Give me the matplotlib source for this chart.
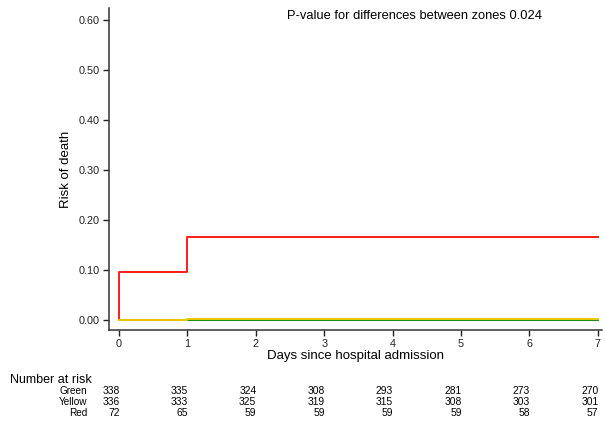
import matplotlib
matplotlib.use("Agg")
import matplotlib.pyplot as plt

plt.rcParams['font.family'] = ['Liberation Sans', 'DejaVu Sans']

# Cumulative risk of death by zone (step curves)
green_days = [0, 1, 7]
green_risk = [0.0, 0.0, 0.0]
yellow_days = [0, 1, 7]
yellow_risk = [0.0, 0.003, 0.003]
red_days = [0, 0, 1, 7]
red_risk = [0.0, 0.097, 0.167, 0.167]

# Number at risk table
risk_days = [0, 1, 2, 3, 4, 5, 6, 7]
at_risk_green = [338, 335, 324, 308, 293, 281, 273, 270]
at_risk_yellow = [336, 333, 325, 319, 315, 308, 303, 301]
at_risk_red = [72, 65, 59, 59, 59, 59, 58, 57]

yticks = [0.0, 0.1, 0.2, 0.3, 0.4, 0.5, 0.6]

fig = plt.figure(figsize=(6.05, 4.33), dpi=100)
ax = fig.add_axes([109 / 605, 103 / 433, 493 / 605, 322 / 433])

ax.plot(green_days, green_risk, drawstyle='steps-post', color='#1a8a1a', lw=1.4, zorder=3)
ax.plot(red_days, red_risk, drawstyle='steps-post', color='#ff1a1a', lw=1.4, zorder=2)
ax.plot(yellow_days, yellow_risk, drawstyle='steps-post', color='#f0c800', lw=1.4, zorder=4)

ax.set_xlim(-0.146, 7.06)
ax.set_ylim(-0.02, 0.624)
ax.set_xticks(risk_days)
ax.set_yticks(yticks)
ax.set_yticklabels([f"{v:.2f}" for v in yticks])
ax.tick_params(axis='both', direction='out', length=4.5, width=1, labelsize=7.8,
               colors='#222222', pad=2)
for side in ('top', 'right'):
    ax.spines[side].set_visible(False)
for side in ('left', 'bottom'):
    ax.spines[side].set_linewidth(1.1)
    ax.spines[side].set_color('#333333')

ax.set_ylabel("Risk of death", fontsize=9.5, labelpad=5)
ax.set_xlabel("Days since hospital admission", fontsize=9.5, labelpad=1)
ax.text(0.62, 0.975, "P-value for differences between zones 0.024", transform=ax.transAxes,
        fontsize=9.3, ha='center', va='center')

# Number-at-risk table below the axis
fig.text(10 / 605, 1 - 380 / 433, "Number at risk", fontsize=9, ha='left', va='center')
rows = [("Green", at_risk_green, 391), ("Yellow", at_risk_yellow, 402), ("Red", at_risk_red, 413)]
for name, counts, ypix in rows:
    yf = 1 - ypix / 433
    fig.text(87 / 605, yf, name, fontsize=7.2, ha='right', va='center')
    for d, n in zip(risk_days, counts):
        xdisp = ax.transData.transform((d, 0))[0]
        xf = (xdisp + 0.5) / fig.bbox.width
        fig.text(xf, yf, str(n), fontsize=7.4, ha='right', va='center')

fig.savefig("out.png", dpi=100)
